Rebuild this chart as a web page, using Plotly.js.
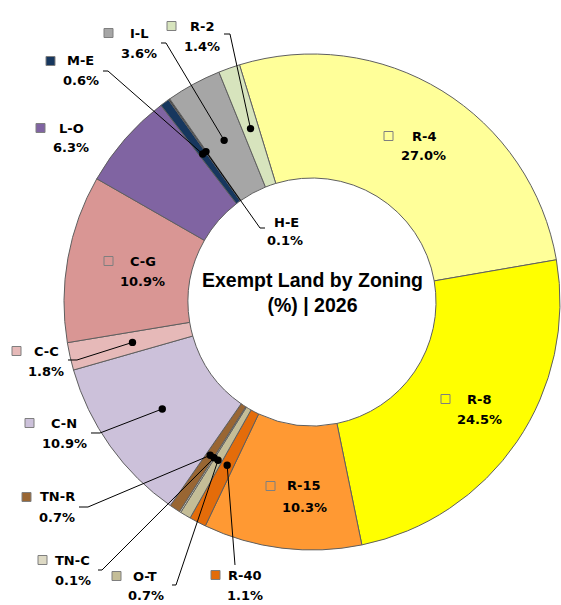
<!DOCTYPE html>
<html>
<head>
<meta charset="utf-8">
<script src="https://cdn.plot.ly/plotly-3.0.1.min.js"></script>
<style>html,body{margin:0;padding:0;background:#fff;}#chart{width:561px;height:605px;}</style>
</head>
<body>
<div id="chart"></div>
<script>
// ---- data ----
const zones = ["R-4","R-8","R-15","R-40","O-T","TN-C","TN-R","C-N","C-C","C-G","L-O","M-E","H-E","I-L","R-2"];
const shares = [27.0, 24.5, 10.3, 1.1, 0.7, 0.1, 0.7, 10.9, 1.8, 10.9, 6.3, 0.6, 0.1, 3.6, 1.4];
const colors = ["#FFFF99","#FFFF00","#FF9933","#E46C0A","#C4BD97","#DDD9C4","#996633","#CCC1DA","#E6B9B8","#D99694","#8064A2","#17375E","#404040","#A6A6A6","#D7E4BD"];
const chartTitle = ["Exempt Land by Zoning", "(%) | 2026"];

// ---- layout helpers (pixel geometry of labels only) ----
const W = 561, H = 605;
const CX = 312, CY = 302, R = 248, HOLE = 0.5;
const ROT = -17;
const px = x => x / W;
const py = y => 1 - y / H;

// label placement: [squareLeft (null = none), line1 y, name cx, pct cx, line2 y]
const labelPos = {
  "R-4":  [384, 136, 424, 424, 155],
  "R-8":  [441, 399, 479, 479, 419],
  "R-15": [266, 486, 303.5, 304, 507],
  "R-40": [211, 575, 245, 245, 595],
  "O-T":  [112, 576, 145, 145.5, 595],
  "TN-C": [38, 560, 72, 72.5, 580],
  "TN-R": [22, 497, 57, 56.5, 517],
  "C-N":  [25, 423, 64, 64.5, 443],
  "C-C":  [12, 351, 46, 46, 371],
  "C-G":  [104, 261, 142.5, 142.5, 281],
  "L-O":  [36, 128, 71, 70.5, 148],
  "M-E":  [46, 61, 80.5, 80.5, 81],
  "H-E":  [null, 223, 286, 285, 241],
  "I-L":  [104, 33, 139, 138.5, 53],
  "R-2":  [167, 26, 202, 201.5, 46]
};
// leader line start points (label side): list of points before the dot
const leaders = {
  "R-2":  [[224,34],[230,34]],
  "I-L":  [[161,43],[166,43]],
  "M-E":  [[103,71],[108,71]],
  "H-E":  [[265,228],[260,228]],
  "C-C":  [[68,360],[77,360]],
  "C-N":  [[91,433],[100,433]],
  "TN-R": [[79,507],[88,507]],
  "TN-C": [[98,570],[102,570]],
  "O-T":  [[172,585],[176,585]],
  "R-40": [[235,565]]
};

const total = shares.reduce((a,b)=>a+b,0);
const annotations = [];
const shapes = [];

annotations.push({
  x: px(CX), y: py(292), xref:'paper', yref:'paper', showarrow:false,
  xanchor:'center', yanchor:'middle',
  text: '<b>' + chartTitle[0] + '</b><br><b>' + chartTitle[1] + '</b>',
  font: {family:'Liberation Sans, Arial, sans-serif', size:19.5, color:'#000'}
});

let cum = 0;
zones.forEach((z, i) => {
  const v = shares[i];
  const mid = (ROT + 360 * (cum + v/2) / total) * Math.PI / 180;
  cum += v;
  const rd = R * (1 + HOLE) / 2 - 2;
  const dx = CX + rd * Math.sin(mid), dy = CY - rd * Math.cos(mid);
  const lp = labelPos[z];
  const fnt = {family:'DejaVu Sans, sans-serif', size:13, color:'#000'};
  annotations.push({x: px(lp[2]), y: py(lp[1]), xref:'paper', yref:'paper', showarrow:false,
    xanchor:'center', yanchor:'middle', text:'<b>'+z+'</b>', font:fnt});
  annotations.push({x: px(lp[3]), y: py(lp[4]), xref:'paper', yref:'paper', showarrow:false,
    xanchor:'center', yanchor:'middle', text:'<b>'+v.toFixed(1)+'%</b>', font:fnt});
  if (lp[0] !== null) {
    shapes.push({type:'rect', xref:'paper', yref:'paper',
      x0: px(lp[0]), x1: px(lp[0]+9), y0: py(lp[1]-4.5), y1: py(lp[1]+4.5),
      fillcolor: colors[i], line:{color:'#7F7F7F', width:1}});
  }
  if (leaders[z]) {
    const pts = leaders[z].concat([[dx, dy]]);
    const path = pts.map((p,k)=>(k? 'L':'M') + px(p[0]).toFixed(5) + ',' + py(p[1]).toFixed(5)).join(' ');
    shapes.push({type:'path', xref:'paper', yref:'paper', path: path, line:{color:'#000', width:1}});
    shapes.push({type:'circle', xref:'paper', yref:'paper',
      x0: px(dx-3.7), x1: px(dx+3.7), y0: py(dy+3.7), y1: py(dy-3.7),
      fillcolor:'#000', line:{color:'#000', width:0}});
  }
});

const trace = {
  type:'pie', labels: zones, values: shares, sort:false, direction:'clockwise',
  rotation: ROT, hole: HOLE, textinfo:'none', hoverinfo:'label+percent',
  marker:{colors: colors, line:{color:'#5F5F5F', width:1}},
  domain:{x:[px(CX-R), px(CX+R)], y:[py(CY+R), py(CY-R)]},
  showlegend:false
};

Plotly.newPlot('chart', [trace], {
  width: W, height: H, margin:{l:0,r:0,t:0,b:0},
  paper_bgcolor:'#fff', plot_bgcolor:'#fff',
  showlegend:false, annotations: annotations, shapes: shapes
}, {displayModeBar:false, staticPlot:true});
</script>
</body>
</html>
